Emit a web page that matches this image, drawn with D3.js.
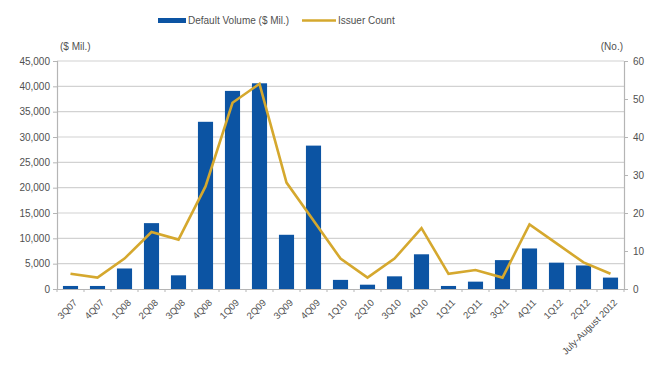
<!DOCTYPE html>
<html>
<head>
<meta charset="utf-8">
<script src="https://cdn.jsdelivr.net/npm/d3@7"></script>
<style>
  html, body { margin: 0; padding: 0; background: #fff; }
  svg { display: block; font-family: Arial, "Liberation Sans", sans-serif; }
</style>
</head>
<body>
<svg id="chart" width="646" height="365"></svg>
<script>
// Quarterly default volume and issuer count
const categories = ["3Q07","4Q07","1Q08","2Q08","3Q08","4Q08","1Q09","2Q09","3Q09","4Q09",
  "1Q10","2Q10","3Q10","4Q10","1Q11","2Q11","3Q11","4Q11","1Q12","2Q12","July-August 2012"];
const defaultVolume = [600, 600, 4050, 13000, 2700, 33000, 39100, 40600, 10700, 28300,
  1800, 850, 2500, 6850, 600, 1450, 5700, 8000, 5200, 4650, 2250];
const issuerCount = [4, 3, 8, 15, 13, 27, 49, 54, 28, 18,
  8, 3, 8, 16, 4, 5, 3, 17, 12, 7, 4];
const leftTicks = [0, 5000, 10000, 15000, 20000, 25000, 30000, 35000, 40000, 45000];
const rightTicks = [0, 10, 20, 30, 40, 50, 60];

const svg = d3.select("#chart");
const margin = { left: 57, right: 22, top: 61, bottom: 76 };
const W = 646, H = 365;
const x0 = margin.left, x1 = W - margin.right;
const y0 = H - margin.bottom, y1 = margin.top;

const barColor = "#0c54a3";
const lineColor = "#d5a82e";
const textColor = "#505050";

const x = d3.scaleBand().domain(categories).range([x0, x1]).paddingInner(0.44).paddingOuter(0.22);
const yL = d3.scaleLinear().domain([0, 45000]).range([y0, y1]);
const yR = d3.scaleLinear().domain([0, 60]).range([y0, y1]);

// horizontal gridlines
svg.append("g").selectAll("line").data(leftTicks.slice(1)).join("line")
  .attr("x1", x0).attr("x2", x1)
  .attr("y1", d => yL(d)).attr("y2", d => yL(d))
  .attr("stroke", "#d2d2d2").attr("stroke-width", 1.2);

// left axis
const axL = svg.append("g").attr("transform", `translate(${x0},0)`)
  .call(d3.axisLeft(yL).tickValues(leftTicks).tickFormat(d3.format(",")).tickSize(4).tickPadding(3));
axL.select(".domain").attr("stroke", "#b5b5b5").attr("stroke-width", 1.2);
axL.selectAll(".tick line").attr("stroke", "#b5b5b5");
axL.selectAll("text").attr("fill", textColor).style("font-size", "10px");

// right axis
const axR = svg.append("g").attr("transform", `translate(${x1},0)`)
  .call(d3.axisRight(yR).tickValues(rightTicks).tickSize(4).tickPadding(5));
axR.select(".domain").attr("stroke", "#b5b5b5").attr("stroke-width", 1.2);
axR.selectAll(".tick line").attr("stroke", "#b5b5b5");
axR.selectAll("text").attr("fill", textColor).style("font-size", "10px");

// bars
svg.append("g").selectAll("rect").data(categories).join("rect")
  .attr("x", (d) => x(d))
  .attr("width", x.bandwidth())
  .attr("y", (d, i) => yL(defaultVolume[i]))
  .attr("height", (d, i) => y0 - yL(defaultVolume[i]))
  .attr("fill", barColor);

// bottom axis
const step = x.step();
const axB = svg.append("g").attr("transform", `translate(0,${y0})`)
  .call(d3.axisBottom(x).tickSize(0).tickPadding(0));
axB.select(".domain").attr("stroke", "#b5b5b5").attr("stroke-width", 1.2);
// small tick marks between categories
svg.append("g").selectAll("line").data(categories.concat([null])).join("line")
  .attr("x1", (d, i) => x0 + i * step).attr("x2", (d, i) => x0 + i * step)
  .attr("y1", y0).attr("y2", y0 + 3)
  .attr("stroke", "#b5b5b5");
axB.selectAll(".tick text")
  .attr("fill", textColor).style("font-size", "9.5px")
  .attr("text-anchor", "end")
  .attr("dy", "0.35em")
  .attr("transform", "translate(5,12) rotate(-45)");

// issuer count line
const line = d3.line()
  .x((d, i) => x(categories[i]) + x.bandwidth() / 2)
  .y(d => yR(d));
svg.append("path").datum(issuerCount)
  .attr("d", line)
  .attr("fill", "none")
  .attr("stroke", lineColor)
  .attr("stroke-width", 2.6)
  .attr("stroke-linejoin", "miter");

// axis unit labels
svg.append("text").attr("x", 60).attr("y", 50).text("($ Mil.)")
  .attr("fill", textColor).style("font-size", "10px");
svg.append("text").attr("x", 623).attr("y", 50).attr("text-anchor", "end").text("(No.)")
  .attr("fill", textColor).style("font-size", "10px");

// legend
const lg = svg.append("g");
lg.append("rect").attr("x", 158).attr("y", 18).attr("width", 28).attr("height", 5).attr("fill", barColor);
lg.append("text").attr("x", 188).attr("y", 24).text("Default Volume ($ Mil.)")
  .attr("fill", textColor).style("font-size", "10px");
lg.append("line").attr("x1", 302).attr("x2", 336).attr("y1", 20.5).attr("y2", 20.5)
  .attr("stroke", lineColor).attr("stroke-width", 2.6);
lg.append("text").attr("x", 338).attr("y", 24).text("Issuer Count")
  .attr("fill", textColor).style("font-size", "10px");
</script>
</body>
</html>
